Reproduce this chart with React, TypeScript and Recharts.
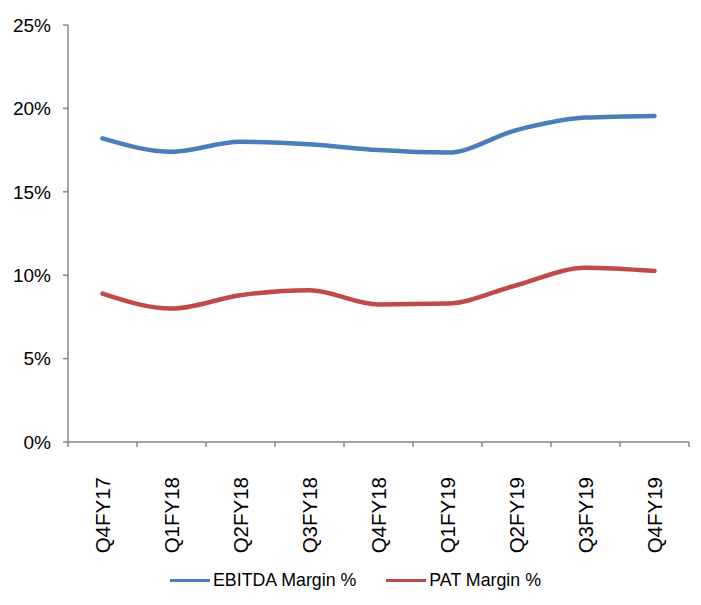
import React from "react"
import { LineChart, Line, XAxis, YAxis, Legend } from "recharts"

// quarterly margins, in percent
const quarters = ["Q4FY17", "Q1FY18", "Q2FY18", "Q3FY18", "Q4FY18", "Q1FY19", "Q2FY19", "Q3FY19", "Q4FY19"]
const ebitdaMargin = [18.2, 17.4, 18.0, 17.85, 17.5, 17.35, 18.7, 19.45, 19.55]
const patMargin = [8.9, 8.0, 8.8, 9.1, 8.25, 8.3, 9.4, 10.45, 10.25]
const yTicks = [0, 5, 10, 15, 20, 25]

const BLUE = "#4A7EBB"
const RED = "#BE4B48"
const AXIS = "#868686"
const FONT = "'Liberation Sans', Arial, sans-serif"

const data = quarters.map((q, i) => ({
  q,
  ebitda: ebitdaMargin[i],
  pat: patMargin[i],
}))

// category label rotated upward, with tick marks on the band edges
const QuarterTick = (props: any) => {
  const { x, y, payload, index, visibleTicksCount } = props
  const half = payload?.offset ?? 0
  const isLast = index === visibleTicksCount - 1
  return (
    <g>
      <line x1={x - half} y1={y - 8} x2={x - half} y2={y - 3} stroke={AXIS} strokeWidth={1.5} />
      {isLast && <line x1={x + half} y1={y - 8} x2={x + half} y2={y - 3} stroke={AXIS} strokeWidth={1.5} />}
      <text
        x={x}
        y={y + 27}
        transform={`rotate(-90, ${x}, ${y + 27})`}
        textAnchor="end"
        dy="0.355em"
        fill="#000"
        fontSize={20.5}
        fontFamily={FONT}
      >
        {payload.value}
      </text>
    </g>
  )
}

const LegendContent = () => (
  <div style={{ display: "flex", alignItems: "center", fontFamily: FONT, fontSize: 17.8, color: "#000" }}>
    {[
      { name: "EBITDA Margin %", color: BLUE },
      { name: "PAT Margin %", color: RED },
    ].map((s, i) => (
      <div key={s.name} style={{ display: "flex", alignItems: "center", marginLeft: i ? 30 : 0 }}>
        <span style={{ display: "inline-block", width: 40, height: 3, background: s.color, marginRight: 3 }} />
        <span>{s.name}</span>
      </div>
    ))}
  </div>
)

export default function App() {
  return (
    <div style={{ position: "absolute", left: 0, top: 0, width: 701, height: 605, background: "#fff" }}>
      <LineChart width={701} height={605} data={data} margin={{ top: 25, right: 12, left: 0, bottom: 0 }}>
        <XAxis
          dataKey="q"
          scale="band"
          height={163}
          stroke={AXIS}
          strokeWidth={1.5}
          tickLine={false}
          tick={<QuarterTick />}
          interval={0}
        />
        <YAxis
          width={68}
          domain={[0, 25]}
          ticks={yTicks}
          tickFormatter={(v: number) => `${v}%`}
          stroke={AXIS}
          strokeWidth={1.5}
          tickSize={5}
          tickMargin={12}
          tick={{ fill: "#000", fontSize: 19, fontFamily: FONT }}
        />
        <Line
          type="monotone"
          dataKey="ebitda"
          name="EBITDA Margin %"
          stroke={BLUE}
          strokeWidth={4.5}
          strokeLinecap="round"
          dot={false}
          isAnimationActive={false}
        />
        <Line
          type="monotone"
          dataKey="pat"
          name="PAT Margin %"
          stroke={RED}
          strokeWidth={4.5}
          strokeLinecap="round"
          dot={false}
          isAnimationActive={false}
        />
        <Legend
          layout="horizontal"
          verticalAlign="middle"
          align="center"
          content={<LegendContent />}
          wrapperStyle={{ top: 570, left: 170, width: "auto" }}
        />
      </LineChart>
    </div>
  )
}
